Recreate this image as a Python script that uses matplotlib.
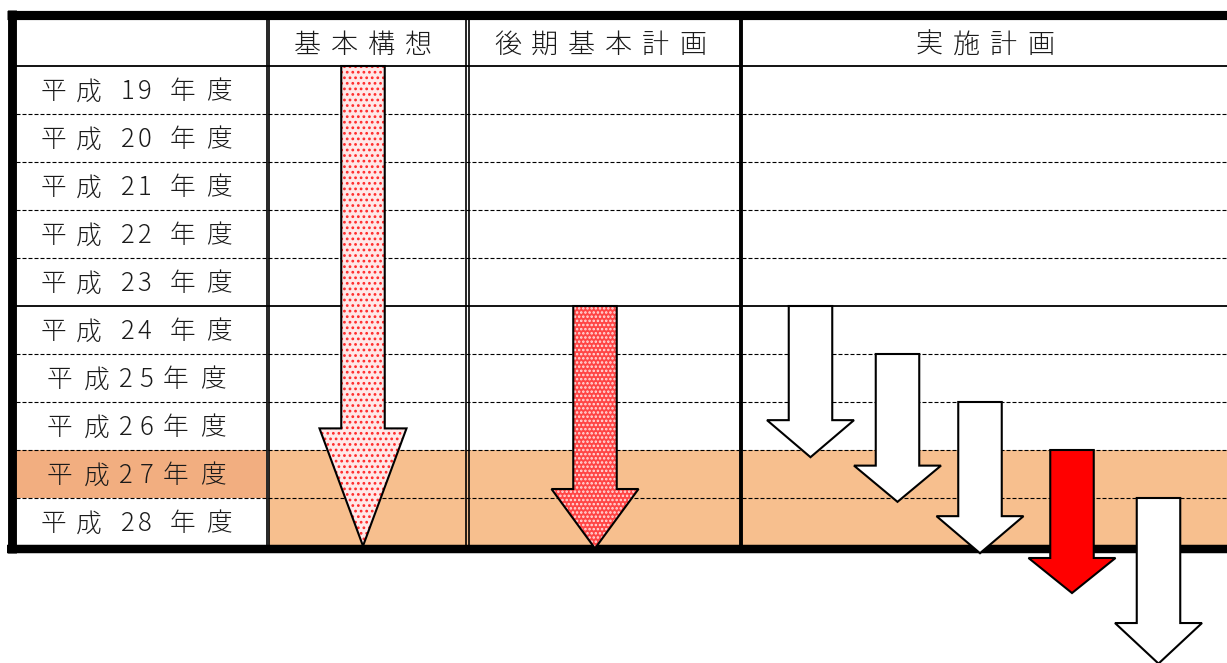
import matplotlib
matplotlib.use("Agg")
import matplotlib.pyplot as plt
from matplotlib.patches import Polygon, Rectangle

plt.rcParams['font.family'] = ['Noto Sans CJK JP', 'DejaVu Sans']
plt.rcParams['hatch.linewidth'] = 1.2

# --- data ---
years = [19, 20, 21, 22, 23, 24, 25, 26, 27, 28]
row_labels = ["平成 19 年度", "平成 20 年度", "平成 21 年度", "平成 22 年度", "平成 23 年度",
              "平成 24 年度", "平成25年度", "平成26年度", "平成27年度", "平成 28 年度"]
columns = ["基本構想", "後期基本計画", "実施計画"]
highlight_years = [27, 28]
highlight_label = 27

# arrows: column index, start year, end (year boundary reached by the tip), kind
arrow_col = [0, 1, 2, 2, 2, 2, 2]
arrow_start = [19, 24, 24, 25, 26, 27, 28]
arrow_end = [29.0, 29.05, 27.15, 28.08, 29.15, 29.98, 31.45]
arrow_kind = ["light", "dense", "white", "white", "white", "red", "white"]

# --- layout (pixels) ---
W, H = 1227, 663
top_y = 66          # top of the first year row
row_h = 48
left_x = 16
col_edges = [266, 468, 741, W]   # label | 基本構想 | 後期基本計画 | 実施計画
header_y = 45
col_centers = [363, 600, 985]
arrow_x_main = [363, 595]
arrow_x_impl = [810.5, 897.5, 980, 1072, 1158.5]


def ypos(y):
    return top_y + (y - years[0]) * row_h


fig = plt.figure(figsize=(W / 100, H / 100), dpi=100)
ax = fig.add_axes([0, 0, 1, 1])
ax.set_xlim(0, W)
ax.set_ylim(H, 0)
ax.axis('off')

# orange highlight
ax.add_patch(Rectangle((col_edges[0] + 3, ypos(highlight_years[0])), W - col_edges[0] - 3,
                       row_h * len(highlight_years), facecolor='#F7BF8E', edgecolor='none', zorder=1))
ax.add_patch(Rectangle((left_x, ypos(highlight_label)), col_edges[0] - left_x, row_h,
                       facecolor='#F2AE80', edgecolor='none', zorder=1))

# horizontal rules
for y in years[1:]:
    if y == 24:
        ax.plot([left_x, W], [ypos(y), ypos(y)], color='black', lw=1.3, zorder=2)
    else:
        ax.plot([left_x, W], [ypos(y), ypos(y)], color='black', lw=0.8,
                dashes=(3.6, 1.8), zorder=2)
ax.plot([left_x, W], [top_y, top_y], color='black', lw=1.3, zorder=2)

# vertical rules
v_top, v_bot = 19, 545
for x in (266.5, 269.3, 466, 469.3):
    ax.plot([x, x], [v_top, v_bot], color='black', lw=1.2, zorder=2)
ax.plot([741, 741], [v_top, v_bot], color='black', lw=2.8, zorder=2)

# thick outer border
ax.plot([7, W], [14.5, 14.5], color='black', lw=6.6, solid_capstyle='butt', zorder=3)
ax.plot([11.7, 11.7], [10, 553], color='black', lw=6.4, solid_capstyle='butt', zorder=3)
ax.plot([7, W], [549, 549], color='black', lw=6.1, solid_capstyle='butt', zorder=3)


def spaced_text(x_c, y, s, fs, full=37, half=17, space=12):
    adv = []
    for ch in s:
        if ch == ' ':
            adv.append(space)
        elif ord(ch) < 128:
            adv.append(half)
        else:
            adv.append(full)
    x = x_c - sum(adv) / 2
    for ch, a in zip(s, adv):
        if ch != ' ':
            ax.text(x + a / 2, y, ch, fontsize=fs, ha='center', va='center',
                    color='#1a1a1a', fontweight='light', zorder=4)
        x += a


# header and row labels
for name, xc in zip(columns, col_centers):
    spaced_text(xc, header_y, name, 19.5)
for y, lab in zip(years, row_labels):
    if ' ' in lab:
        spaced_text(136, ypos(y) + row_h / 2 + 2, lab, 18.5, full=36)
    else:
        spaced_text(136, ypos(y) + row_h / 2 + 2, lab, 18.5, full=37, half=21)


# arrows
body_w, head_w = 43.5, 87
fills = {
    "light": dict(fc='#FFE8E8', hc='#FF2A2A', hatch='...'),
    "dense": dict(fc='#FF4545', hc='#FFE0E0', hatch='....'),
    "white": dict(fc='white', hc='none', hatch=None),
    "red": dict(fc='#FF0000', hc='none', hatch=None),
}
impl_k = 0
for c, s, e, kind in zip(arrow_col, arrow_start, arrow_end, arrow_kind):
    if c == 2:
        cx = arrow_x_impl[impl_k]
        impl_k += 1
    else:
        cx = arrow_x_main[c]
    y0, y1 = ypos(s), ypos(e)
    hl = 0.245 * (y1 - y0)
    verts = [(cx - body_w / 2, y0), (cx + body_w / 2, y0), (cx + body_w / 2, y1 - hl),
             (cx + head_w / 2, y1 - hl), (cx, y1), (cx - head_w / 2, y1 - hl),
             (cx - body_w / 2, y1 - hl)]
    f = fills[kind]
    ax.add_patch(Polygon(verts, closed=True, facecolor=f['fc'], edgecolor=f['hc'],
                         lw=0, hatch=f['hatch'], zorder=5))
    ax.add_patch(Polygon(verts, closed=True, fill=False, edgecolor='black',
                         lw=1.5, joinstyle='miter', zorder=6))

fig.savefig('out.png', dpi=100)
